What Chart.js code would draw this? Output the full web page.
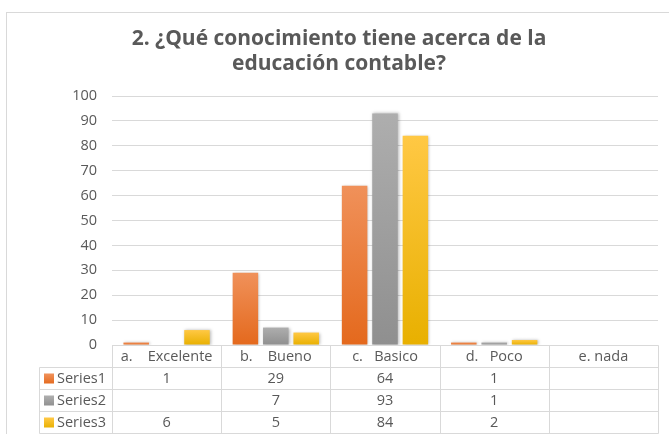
<!DOCTYPE html>
<html>
<head>
<meta charset="utf-8">
<script src="https://cdn.jsdelivr.net/npm/chart.js@4/dist/chart.umd.min.js"></script>
<style>
  html, body { margin: 0; padding: 0; background: #ffffff; }
  #wrap { width: 669px; height: 434px; position: relative; }
</style>
</head>
<body>
<div id="wrap"><canvas id="c" width="669" height="434"></canvas></div>
<script>
const titleLines = ['2. ¿Qué conocimiento tiene acerca de la', 'educación contable?'];
const categories = ['a.    Excelente', 'b.    Bueno', 'c.   Basico', 'd.   Poco', 'e. nada'];
const seriesNames = ['Series1', 'Series2', 'Series3'];
const series1 = [1, 29, 64, 1, null];
const series2 = [null, 7, 93, 1, null];
const series3 = [6, 5, 84, 2, null];
const yMin = 0, yMax = 100, yStep = 10;

const palette = [
  { top: '#F0915A', bottom: '#E4691D', solid: '#ED7D31' },
  { top: '#AEAEAE', bottom: '#8F8F8F', solid: '#A5A5A5' },
  { top: '#FFC844', bottom: '#E8B000', solid: '#FFC000' }
];
const TEXT = '#595959';
const LINE = '#D9D9D9';
const FONT = "'Open Sans', 'DejaVu Sans', sans-serif";

function barGradient(idx) {
  return function (ctx) {
    const chart = ctx.chart;
    const p = palette[idx];
    if (!chart.chartArea || ctx.raw == null || !chart.scales.y) return p.solid;
    const y = chart.scales.y;
    const y0 = y.getPixelForValue(0);
    const y1 = y.getPixelForValue(ctx.raw);
    if (!isFinite(y0) || !isFinite(y1) || Math.abs(y0 - y1) < 1) return p.solid;
    const g = chart.ctx.createLinearGradient(0, y1, 0, y0);
    g.addColorStop(0, p.top);
    g.addColorStop(1, p.bottom);
    return g;
  };
}

const ROW_H = 22;
const LEGEND_LEFT = 39;

const framePlugin = {
  id: 'frame',
  beforeDraw(chart) {
    const c = chart.ctx;
    c.save();
    c.fillStyle = '#ffffff';
    c.fillRect(0, 0, chart.width, chart.height);
    c.strokeStyle = LINE;
    c.lineWidth = 1;
    c.strokeRect(6.5, 12.5, 720, 500);
    c.restore();
  }
};

const shadowPlugin = {
  id: 'barShadow',
  beforeDatasetsDraw(chart) {
    const c = chart.ctx;
    c.save();
    c.shadowColor = 'rgba(0,0,0,0.28)';
    c.shadowBlur = 3;
    c.shadowOffsetX = 1;
    c.shadowOffsetY = 0;
  },
  afterDatasetsDraw(chart) {
    chart.ctx.restore();
  }
};

const tablePlugin = {
  id: 'dataTable',
  afterDraw(chart) {
    const c = chart.ctx;
    const x = chart.scales.x;
    const area = chart.chartArea;
    const n = categories.length;
    const cw = (area.right - area.left) / n;
    const top = area.bottom;
    const rows = chart.data.datasets.length;
    c.save();
    c.strokeStyle = LINE;
    c.lineWidth = 1;
    const px = v => Math.round(v) + 0.5;
    c.beginPath();
    c.moveTo(px(area.left), px(top));
    c.lineTo(px(area.right), px(top));
    for (let r = 1; r <= rows + 1; r++) {
      const yy = px(top + r * ROW_H);
      c.moveTo(px(LEGEND_LEFT), yy);
      c.lineTo(px(area.right), yy);
    }
    for (let i = 0; i <= n; i++) {
      const xx = px(area.left + i * cw);
      c.moveTo(xx, px(top));
      c.lineTo(xx, px(top + (rows + 1) * ROW_H));
    }
    c.moveTo(px(LEGEND_LEFT), px(top + ROW_H));
    c.lineTo(px(LEGEND_LEFT), px(top + (rows + 1) * ROW_H));
    c.stroke();

    c.fillStyle = TEXT;
    c.font = "14.5px " + FONT;
    c.textBaseline = 'middle';
    c.textAlign = 'center';
    for (let i = 0; i < n; i++) {
      const cx = x.getPixelForValue(i);
      c.fillText(chart.data.labels[i], cx, top + ROW_H / 2 + 1);
    }
    chart.data.datasets.forEach((ds, r) => {
      const cy = top + (r + 1) * ROW_H + ROW_H / 2 + 1;
      const p = palette[r];
      const g = c.createLinearGradient(0, cy - 5, 0, cy + 5);
      g.addColorStop(0, p.top);
      g.addColorStop(1, p.bottom);
      c.fillStyle = g;
      c.fillRect(44, cy - 5.5, 10, 10);
      c.fillStyle = TEXT;
      c.textAlign = 'left';
      c.fillText(ds.label, 57, cy);
      c.textAlign = 'center';
      for (let i = 0; i < n; i++) {
        const v = ds.data[i];
        if (v == null) continue;
        c.fillText(String(v), x.getPixelForValue(i), cy);
      }
    });
    c.restore();
  }
};

const seriesData = [series1, series2, series3];

new Chart(document.getElementById('c'), {
  type: 'bar',
  data: {
    labels: categories,
    datasets: seriesData.map((d, i) => ({
      label: seriesNames[i],
      data: d,
      backgroundColor: barGradient(i),
      borderWidth: 0,
      categoryPercentage: 0.835,
      barPercentage: 0.84
    }))
  },
  options: {
    responsive: false,
    animation: false,
    devicePixelRatio: 1,
    layout: { padding: { left: 20, right: 11, top: 0, bottom: 89 } },
    plugins: {
      legend: { display: false },
      tooltip: { enabled: false },
      title: {
        display: true,
        text: titleLines,
        color: TEXT,
        font: { family: FONT, size: 21, weight: 'bold', lineHeight: '25px' },
        padding: { top: 27, bottom: 19 }
      }
    },
    scales: {
      x: {
        display: false,
        grid: { display: false }
      },
      y: {
        min: yMin,
        max: yMax,
        afterFit(s) { s.width = 92; },
        ticks: {
          stepSize: yStep,
          color: TEXT,
          padding: 15,
          font: { family: FONT, size: 14.5 }
        },
        grid: { color: LINE, lineWidth: 1, drawTicks: false },
        border: { display: false }
      }
    }
  },
  plugins: [framePlugin, shadowPlugin, tablePlugin]
});
</script>
</body>
</html>
